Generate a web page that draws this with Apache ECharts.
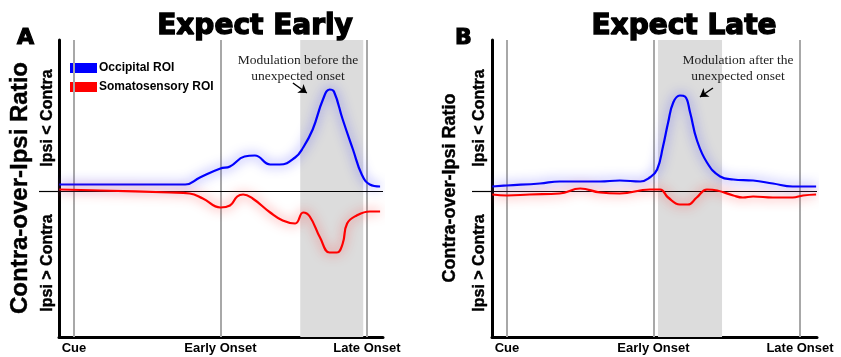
<!DOCTYPE html>
<html>
<head>
<meta charset="utf-8">
<script src="https://cdn.jsdelivr.net/npm/echarts@6/dist/echarts.min.js"></script>
<style>
  html, body { margin: 0; padding: 0; background: #fff; }
  #chart { width: 841px; height: 357px; }
</style>
</head>
<body>
<div id="chart"></div>
<script>
// time in ms from cue, values in arbitrary ratio units (0 = no lateralisation)
const tickValues = [0, 1000, 2000];
const tickLabels = ['Cue', 'Early Onset', 'Late Onset'];

// Panel A - Expect Early
const earlyOccTime = [-100, 180, 450, 655, 760, 860, 1000, 1065, 1165, 1235, 1340, 1405, 1510, 1565, 1630, 1700, 1745, 1775, 1835, 1905, 1965, 2020, 2090];
const earlyOccVal  = [0.07, 0.07, 0.07, 0.07, 0.07, 0.14, 0.23, 0.25, 0.35, 0.36, 0.27, 0.27, 0.34, 0.44, 0.62, 0.92, 1.02, 1.00, 0.72, 0.42, 0.17, 0.07, 0.05];
const earlySomTime = [-100, 180, 655, 790, 880, 1000, 1065, 1115, 1155, 1220, 1340, 1425, 1510, 1565, 1610, 1680, 1745, 1795, 1835, 1865, 1930, 2020, 2090];
const earlySomVal  = [0.02, 0.01, -0.01, -0.02, -0.07, -0.16, -0.14, -0.05, -0.03, -0.07, -0.21, -0.29, -0.32, -0.21, -0.25, -0.46, -0.61, -0.61, -0.52, -0.32, -0.24, -0.20, -0.20];
const earlyWindow = [1545, 1975];

// Panel B - Expect Late
const lateOccTime = [-100, 0, 225, 360, 500, 635, 770, 910, 975, 1025, 1065, 1100, 1135, 1180, 1215, 1250, 1295, 1365, 1455, 1545, 1680, 1815, 1950, 2110];
const lateOccVal  = [0.05, 0.06, 0.08, 0.10, 0.10, 0.10, 0.11, 0.10, 0.14, 0.22, 0.45, 0.69, 0.89, 0.96, 0.95, 0.79, 0.52, 0.29, 0.15, 0.12, 0.11, 0.08, 0.05, 0.05];
const lateSomTime = [-100, 0, 155, 360, 500, 635, 770, 975, 1045, 1100, 1180, 1235, 1295, 1365, 1435, 1545, 1610, 1680, 1815, 1950, 2020, 2110];
const lateSomVal  = [-0.03, -0.04, -0.03, -0.02, 0.03, -0.01, -0.02, 0.02, 0.02, -0.06, -0.13, -0.13, -0.06, 0.02, 0.01, -0.04, -0.06, -0.05, -0.06, -0.06, -0.04, -0.03];
const lateWindow = [1031, 1468];

const BLUE = '#0000ff';
const RED = '#ff0000';
const SANS = '"Liberation Sans", Arial, sans-serif';
const HEAVY = '"DejaVu Sans", sans-serif';

const zip = (xs, ys) => xs.map((x, i) => [x, ys[i]]);

const chart = echarts.init(document.getElementById('chart'));

const makeX = (idx, max) => ({
  type: 'value',
  gridIndex: idx,
  min: -102,
  max: max,
  splitLine: { show: false },
  axisLine: { onZero: false, lineStyle: { color: '#000', width: 3 } },
  axisTick: { show: false },
  axisLabel: {
    customValues: tickValues,
    formatter: (v) => tickLabels[tickValues.indexOf(v)] || '',
    color: '#000',
    fontFamily: SANS,
    fontWeight: 'bold',
    fontSize: 13,
    margin: 5,
  },
});

const makeY = (idx) => ({
  type: 'value',
  gridIndex: idx,
  min: -1.455,
  max: 1.515,
  splitLine: { show: false },
  axisLine: { onZero: false, lineStyle: { color: '#000', width: 3 } },
  // little black stub left of the axis at zero
  axisTick: { show: true, customValues: [0], length: 20, lineStyle: { color: '#000', width: 1.2 } },
  axisLabel: { show: false },
});

const curve = (name, idx, data, color, glow) => ({
  name: name,
  type: 'line',
  xAxisIndex: idx,
  yAxisIndex: idx,
  data: data,
  smooth: 0.45,
  showSymbol: false,
  symbol: 'none',
  z: 5,
  color: color,
  itemStyle: { color: color },
  lineStyle: { color: color, width: 2.2, shadowBlur: 12, shadowColor: glow },
});

// empty series that only carries the shading, event lines and arrow
const guides = (idx, win, arrow) => ({
  type: 'line',
  xAxisIndex: idx,
  yAxisIndex: idx,
  data: [],
  z: 1,
  silent: true,
  markArea: {
    silent: true,
    itemStyle: { color: '#dcdcdc' },
    data: [[{ xAxis: win[0] }, { xAxis: win[1] }]],
  },
  markLine: {
    silent: true,
    symbol: 'none',
    label: { show: false },
    lineStyle: { type: 'solid' },
    data: [
      ...tickValues.map((v) => ({ xAxis: v, lineStyle: { color: '#a8a8a8', width: 2, type: 'solid' } })),
      { yAxis: 0, lineStyle: { color: '#000', width: 1.2, type: 'solid' } },
      [
        { coord: arrow[0], symbol: 'none', lineStyle: { color: '#000', width: 1.5, type: 'solid' } },
        { coord: arrow[1], symbol: 'arrow', symbolSize: 8 },
      ],
    ],
  },
});

const rotText = (text, x, y, size) => ({
  type: 'text',
  x: x,
  y: y,
  rotation: Math.PI / 2,
  style: {
    text: text,
    font: 'bold ' + size + 'px ' + SANS,
    fill: '#000',
    stroke: '#000',
    lineWidth: 0.4,
    align: 'center',
    verticalAlign: 'middle',
    textAlign: 'center',
    textVerticalAlign: 'middle',
  },
});

const bigTitle = (text, x) => ({
  text: text,
  left: x,
  top: 8,
  textAlign: 'center',
  textStyle: {
    fontFamily: HEAVY,
    fontWeight: 'bold',
    fontSize: 28,
    color: '#000',
    textBorderColor: '#000',
    textBorderWidth: 1.4,
  },
});

const panelLetter = (text, x) => ({
  text: text,
  left: x,
  top: 22,
  textStyle: { fontFamily: HEAVY, fontWeight: 'bold', fontSize: 22, color: '#000', textBorderColor: '#000', textBorderWidth: 1.2 },
});

const note = (text, x) => ({
  text: text,
  left: x,
  top: 47,
  textAlign: 'center',
  textStyle: {
    fontFamily: '"Liberation Serif", "Times New Roman", serif',
    fontWeight: 'normal',
    fontSize: 13.5,
    lineHeight: 16,
    color: '#222',
  },
});

const option = {
  backgroundColor: '#fff',
  animation: false,
  title: [
    bigTitle('Expect Early', 250),
    bigTitle('Expect Late', 679),
    panelLetter('A', 12),
    panelLetter('B', 450),
    note('Modulation before the\nunexpected onset', 293),
    note('Modulation after the\nunexpected onset', 733),
  ],
  legend: {
    data: ['Occipital ROI', 'Somatosensory ROI'],
    orient: 'vertical',
    left: 70,
    top: 62,
    padding: 0,
    icon: 'rect',
    itemWidth: 27,
    itemHeight: 10,
    itemGap: 7,
    selectedMode: false,
    itemStyle: { shadowBlur: 0 },
    textStyle: { fontFamily: SANS, fontWeight: 'bold', fontSize: 12, color: '#000', padding: [0, 0, 0, -3] },
  },
  grid: [
    { left: 59, top: 40, width: 324, height: 297 },
    { left: 492, top: 40, width: 325, height: 297 },
  ],
  xAxis: [makeX(0, 2110), makeX(1, 2116)],
  yAxis: [makeY(0), makeY(1)],
  graphic: [
    rotText('Contra-over-Ipsi Ratio', 20, 188, 24),
    rotText('Ipsi < Contra', 48, 118, 16),
    rotText('Ipsi > Contra', 48, 263, 16),
    rotText('Contra-over-Ipsi Ratio', 450, 188, 18),
    rotText('Ipsi < Contra', 480, 118, 16),
    rotText('Ipsi > Contra', 480, 263, 16),
  ],
  series: [
    guides(0, earlyWindow, [[1495, 1.085], [1590, 0.985]]),
    guides(1, lateWindow, [[1406, 1.035], [1317, 0.945]]),
    curve('Occipital ROI', 0, zip(earlyOccTime, earlyOccVal), BLUE, 'rgba(70,70,255,1)'),
    curve('Somatosensory ROI', 0, zip(earlySomTime, earlySomVal), RED, 'rgba(255,70,70,1)'),
    curve('Occipital ROI', 1, zip(lateOccTime, lateOccVal), BLUE, 'rgba(70,70,255,1)'),
    curve('Somatosensory ROI', 1, zip(lateSomTime, lateSomVal), RED, 'rgba(255,70,70,1)'),
  ],
};

chart.setOption(option);
window.addEventListener('resize', () => chart && chart.resize());
</script>
</body>
</html>
